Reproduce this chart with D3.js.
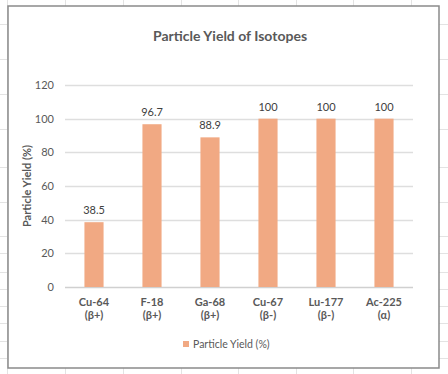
<!DOCTYPE html>
<html>
<head>
<meta charset="utf-8">
<script src="https://cdn.jsdelivr.net/npm/d3@7"></script>
<style>
  html, body { margin: 0; padding: 0; background: #fff; }
  svg { display: block; font-family: Lato, "Open Sans", sans-serif; }
</style>
</head>
<body>
<svg id="chart" width="448" height="374"></svg>
<script>
const isotopes = ["Cu-64", "F-18", "Ga-68", "Cu-67", "Lu-177", "Ac-225"];
const decayModes = ["(β+)", "(β+)", "(β+)", "(β-)", "(β-)", "(α)"];
const yieldPct = [38.5, 96.7, 88.9, 100, 100, 100];
const yTicks = [0, 20, 40, 60, 80, 100, 120];

// spreadsheet background cells
const sheetCols = [7, 65, 123, 181, 238, 296, 353, 411];
const sheetRows = [24, 59, 94, 129, 167, 202, 236, 253, 272, 289, 306, 323, 341, 358];

const svg = d3.select("#chart");
const W = 448, H = 374;

const bg = svg.append("g");
sheetCols.forEach(x => bg.append("line").attr("x1", x + 0.5).attr("x2", x + 0.5)
    .attr("y1", 0).attr("y2", H).attr("stroke", "#e3e3e3"));
sheetRows.forEach(y => bg.append("line").attr("x1", 0).attr("x2", W)
    .attr("y1", y + 0.5).attr("y2", y + 0.5).attr("stroke", "#e3e3e3"));

// chart frame
svg.append("rect").attr("x", 8).attr("y", 6).attr("width", 431).attr("height", 362)
    .attr("fill", "#fff").attr("stroke", "#8a8a8a").attr("stroke-width", 1.5);

const x = d3.scaleBand().domain(isotopes).range([65, 413]);
const y = d3.scaleLinear().domain([0, 120]).range([287, 85]);
const cx = d => x(d) + x.bandwidth() / 2;

const g = svg.append("g");

// gridlines
g.selectAll(".grid").data(yTicks).join("line")
    .attr("x1", 65).attr("x2", 413)
    .attr("y1", d => Math.round(y(d)) + 0.5).attr("y2", d => Math.round(y(d)) + 0.5)
    .attr("stroke", d => d === 0 ? "#d0d0d0" : "#dedede").attr("stroke-width", 1.5);

g.selectAll(".ytick").data(yTicks).join("text")
    .attr("x", 54).attr("y", d => y(d)).attr("dy", "0.35em")
    .attr("text-anchor", "end").attr("font-size", 11).attr("fill", "#595959")
    .text(d => d);

// bars
const bw = x.bandwidth() * 0.33;
g.selectAll(".bar").data(yieldPct).join("rect")
    .attr("x", (d, i) => cx(isotopes[i]) - bw / 2)
    .attr("y", d => y(d)).attr("width", bw).attr("height", d => y(0) - y(d))
    .attr("fill", "#f1a983");

g.selectAll(".lbl").data(yieldPct).join("text")
    .attr("x", (d, i) => cx(isotopes[i]))
    .attr("y", d => y(d) - 8)
    .attr("text-anchor", "middle").attr("font-size", 11).attr("fill", "#404040")
    .text(d => d);

// category labels, two lines
g.selectAll(".cat").data(isotopes).join("text")
    .attr("x", cx).attr("y", 306)
    .attr("text-anchor", "middle").attr("font-size", 11).attr("font-weight", "bold")
    .attr("fill", "#595959").text(d => d);
g.selectAll(".mode").data(decayModes).join("text")
    .attr("x", (d, i) => cx(isotopes[i])).attr("y", 319)
    .attr("text-anchor", "middle").attr("font-size", 11).attr("font-weight", "bold")
    .attr("fill", "#595959").text(d => d);

// titles
svg.append("text").attr("x", 230).attr("y", 41).attr("text-anchor", "middle")
    .attr("font-size", 14).attr("font-weight", "bold").attr("fill", "#595959")
    .text("Particle Yield of Isotopes");

svg.append("text").attr("transform", "translate(31,186) rotate(-90)")
    .attr("text-anchor", "middle").attr("font-size", 11).attr("font-weight", "bold")
    .attr("fill", "#595959").text("Particle Yield (%)");

// legend
svg.append("rect").attr("x", 183).attr("y", 341).attr("width", 6).attr("height", 6)
    .attr("fill", "#f1a983");
svg.append("text").attr("x", 193).attr("y", 344).attr("dy", "0.35em")
    .attr("font-size", 10.5).attr("fill", "#595959").text("Particle Yield (%)");
</script>
</body>
</html>
